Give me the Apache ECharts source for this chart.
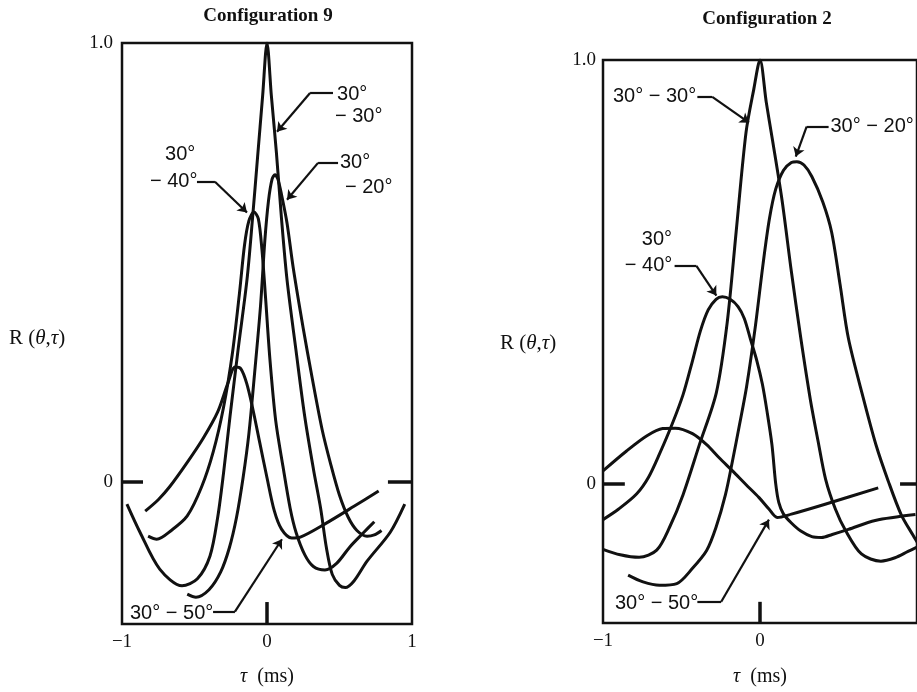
<!DOCTYPE html>
<html>
<head>
<meta charset="utf-8">
<script src="https://cdn.jsdelivr.net/npm/echarts@6/dist/echarts.min.js"></script>
<style>
html,body{margin:0;padding:0;background:#fff;}
#c{width:917px;height:692px;}
</style>
</head>
<body>
<div id="c"></div>
<script>
// ---------- Configuration 9 (left panel): [tau (ms), R] ----------
const c9_30_30 = [[-0.966,-0.05],[-0.876,-0.114],[-0.74,-0.198],[-0.586,-0.236],[-0.48,-0.22],[-0.393,-0.168],[-0.34,-0.08],[-0.3,0.02],[-0.255,0.15],[-0.2,0.3],[-0.138,0.461],[-0.1,0.6],[-0.065,0.74],[-0.03,0.88],[0,1.0],[0.03,0.88],[0.065,0.75],[0.1,0.6],[0.138,0.461],[0.2,0.3],[0.26,0.15],[0.32,0.03],[0.37,-0.06],[0.41,-0.15],[0.45,-0.21],[0.5,-0.235],[0.54,-0.24],[0.6,-0.225],[0.69,-0.18],[0.85,-0.114],[0.95,-0.05]];
const c9_30_40 = [[-0.82,-0.123],[-0.76,-0.13],[-0.66,-0.11],[-0.55,-0.077],[-0.45,-0.01],[-0.37,0.07],[-0.3,0.17],[-0.24,0.29],[-0.19,0.43],[-0.155,0.54],[-0.125,0.595],[-0.09,0.615],[-0.06,0.6],[-0.035,0.53],[-0.01,0.42],[0.02,0.28],[0.06,0.14],[0.11,0.036],[0.16,-0.06],[0.2,-0.114],[0.26,-0.165],[0.32,-0.192],[0.40,-0.2],[0.48,-0.185],[0.57,-0.148],[0.66,-0.117],[0.74,-0.09]];
const c9_30_20 = [[-0.55,-0.255],[-0.49,-0.262],[-0.40,-0.245],[-0.32,-0.205],[-0.26,-0.15],[-0.21,-0.08],[-0.165,0.01],[-0.125,0.11],[-0.085,0.25],[-0.045,0.4],[-0.015,0.55],[0.01,0.64],[0.035,0.69],[0.055,0.70],[0.075,0.69],[0.1,0.655],[0.138,0.59],[0.18,0.49],[0.25,0.35],[0.31,0.24],[0.38,0.12],[0.44,0.04],[0.5,-0.03],[0.56,-0.08],[0.62,-0.11],[0.69,-0.123],[0.74,-0.12],[0.79,-0.11]];
const c9_30_50 = [[-0.84,-0.066],[-0.75,-0.04],[-0.67,-0.01],[-0.55,0.045],[-0.44,0.1],[-0.34,0.16],[-0.27,0.225],[-0.22,0.262],[-0.18,0.258],[-0.14,0.225],[-0.1,0.17],[-0.05,0.09],[0,0.01],[0.05,-0.065],[0.1,-0.107],[0.17,-0.127],[0.23,-0.125],[0.4,-0.095],[0.6,-0.055],[0.77,-0.02]];

// ---------- Configuration 2 (right panel): [tau (ms), R] ----------
const c2_30_30 = [[-1.0,-0.155],[-0.89,-0.168],[-0.77,-0.174],[-0.658,-0.157],[-0.576,-0.103],[-0.49,-0.026],[-0.386,0.092],[-0.278,0.215],[-0.209,0.38],[-0.152,0.594],[-0.089,0.829],[-0.04,0.93],[0,1.0],[0.04,0.9],[0.08,0.81],[0.14,0.67],[0.2,0.5],[0.26,0.343],[0.32,0.2],[0.37,0.1],[0.418,0.01],[0.48,-0.06],[0.544,-0.11],[0.646,-0.166],[0.77,-0.183],[0.86,-0.175],[0.943,-0.16],[1.0,-0.15]];
const c2_30_40 = [[-1.0,-0.085],[-0.9,-0.06],[-0.785,-0.024],[-0.71,0.015],[-0.64,0.07],[-0.56,0.14],[-0.49,0.21],[-0.43,0.29],[-0.38,0.36],[-0.33,0.41],[-0.28,0.435],[-0.24,0.441],[-0.19,0.435],[-0.14,0.418],[-0.1,0.39],[-0.06,0.34],[-0.02,0.29],[0.015,0.235],[0.045,0.17],[0.076,0.092],[0.1,0.0],[0.12,-0.045],[0.15,-0.072],[0.2,-0.093],[0.26,-0.112],[0.33,-0.125],[0.392,-0.127],[0.46,-0.12],[0.563,-0.108],[0.734,-0.087],[0.99,-0.073]];
const c2_30_20 = [[-0.84,-0.216],[-0.745,-0.232],[-0.64,-0.24],[-0.53,-0.236],[-0.43,-0.2],[-0.34,-0.158],[-0.28,-0.103],[-0.22,-0.026],[-0.175,0.054],[-0.13,0.14],[-0.085,0.23],[-0.03,0.37],[0.02,0.52],[0.06,0.625],[0.1,0.695],[0.15,0.74],[0.2,0.758],[0.235,0.76],[0.28,0.752],[0.33,0.725],[0.4,0.665],[0.456,0.594],[0.51,0.47],[0.563,0.343],[0.658,0.202],[0.74,0.09],[0.816,0.007],[0.899,-0.073],[0.975,-0.122],[1.02,-0.15]];
const c2_30_50 = [[-1.0,0.03],[-0.85,0.077],[-0.72,0.113],[-0.62,0.13],[-0.54,0.131],[-0.43,0.118],[-0.34,0.092],[-0.26,0.061],[-0.175,0.03],[-0.09,-0.002],[-0.006,-0.033],[0.057,-0.06],[0.11,-0.08],[0.2,-0.072],[0.42,-0.048],[0.753,-0.01]];

// ---------- tick labels ----------
const xTicks9 = [-1, 0, 1];
const xTicks2 = [-1, 0];
const yTicks = [0, 1];
const xTickText = {'-1':'\u22121', '0':'0', '1':'1'};
const yTickText = {'0':'0', '1':'1.0'};

// ---------- annotations (text, grid, [tau, R]) ----------
const annoText = [
  {t:'30°', g:0, p:[0.483,0.882]}, {t:'\u2212 30°', g:0, p:[0.469,0.832]},
  {t:'30°', g:0, p:[0.503,0.727]}, {t:'\u2212 20°', g:0, p:[0.538,0.670]},
  {t:'30°', g:0, p:[-0.703,0.745]}, {t:'\u2212 40°', g:0, p:[-0.807,0.684]},
  {t:'30° \u2212 50°', g:0, p:[-0.945,-0.300]},
  {t:'30° \u2212 30°', g:1, p:[-0.937,0.913]},
  {t:'30° \u2212 20°', g:1, p:[0.449,0.843]},
  {t:'30°', g:1, p:[-0.753,0.577]}, {t:'\u2212 40°', g:1, p:[-0.861,0.514]},
  {t:'30° \u2212 50°', g:1, p:[-0.924,-0.284]}
];
// leader lines: [end at text, elbow, arrow tip]
const leaders9 = [
  [[0.455,0.886],[0.297,0.886],[0.069,0.798]],
  [[0.49,0.727],[0.352,0.727],[0.138,0.643]],
  [[-0.483,0.684],[-0.359,0.684],[-0.138,0.614]],
  [[-0.372,-0.295],[-0.221,-0.295],[0.103,-0.13]]
];
const leaders2 = [
  [[-0.399,0.913],[-0.304,0.913],[-0.07,0.852]],
  [[0.437,0.843],[0.297,0.843],[0.228,0.772]],
  [[-0.544,0.514],[-0.405,0.514],[-0.278,0.444]],
  [[-0.399,-0.279],[-0.247,-0.279],[0.057,-0.085]]
];
// zero reference ticks: [from, to]
const zeroTicks9 = [[[-1,0],[-0.855,0]],[[0.834,0],[1,0]],[[0,-0.323],[0,-0.273]]];
const zeroTicks2 = [[[-1,0],[-0.861,0]],[[0.892,0],[1,0]],[[0,-0.329],[0,-0.279]]];

const SERIF = '"Liberation Serif", "Times New Roman", serif';
const SANS = '"Liberation Sans", Arial, sans-serif';
const INK = '#111';

function leaderData(list){
  const out = [];
  list.forEach(l => {
    out.push([{coord:l[0], symbol:'none'}, {coord:l[1], symbol:'none'}]);
    out.push([{coord:l[1], symbol:'none'}, {coord:l[2], symbol:'arrow'}]);
  });
  return out;
}
function tickData(list){
  return list.map(s => [{coord:s[0]}, {coord:s[1]}]);
}
function curve(name, data, gi, extra){
  const s = {
    name, type:'line', data, xAxisIndex:gi, yAxisIndex:gi,
    showSymbol:false, symbol:'none', smooth:0.3, animation:false, silent:true,
    lineStyle:{color:INK, width:3, join:'round'}, z:3
  };
  return Object.assign(s, extra || {});
}
const leaderMark = (list) => ({
  silent:true, animation:false, symbol:['none','arrow'], symbolSize:9,
  label:{show:false}, lineStyle:{color:INK, width:2.2, type:'solid'},
  emphasis:{disabled:true}, data:leaderData(list)
});
const tickMark = (list) => ({
  silent:true, animation:false, symbol:['none','none'],
  label:{show:false}, lineStyle:{color:INK, width:3.5, type:'solid'},
  emphasis:{disabled:true}, data:tickData(list)
});

function xAxis(gi, ticks){
  return {
    type:'value', gridIndex:gi, min:-1, max:1,
    axisLine:{show:false}, axisTick:{show:false}, splitLine:{show:false},
    axisLabel:{customValues:ticks, formatter:v => xTickText[String(v)], color:INK,
      fontFamily:SERIF, fontSize:19, margin:9},
    name:'{i|\u03c4}  (ms)', nameLocation:'middle', nameGap:gi===0?43:44,
    nameTextStyle:{color:INK, fontFamily:SERIF, fontSize:20,
      rich:{i:{fontStyle:'italic', fontFamily:SERIF, fontSize:20, color:INK}}}
  };
}
function yAxis(gi, min){
  return {
    type:'value', gridIndex:gi, min:min, max:1,
    axisLine:{show:false}, axisTick:{show:false}, splitLine:{show:false},
    axisLabel:{customValues:yTicks, formatter:v => yTickText[String(v)], color:INK,
      fontFamily:SERIF, fontSize:19, margin:gi===0?9:7}
  };
}

const option = {
  backgroundColor:'#fff',
  animation:false,
  grid:[
    {left:122, right:505, top:43, bottom:67, show:true, borderColor:INK, borderWidth:2.5, backgroundColor:'transparent'},
    {left:603, right:-4, top:60, bottom:66, show:true, borderColor:INK, borderWidth:2.5, backgroundColor:'transparent'}
  ],
  xAxis:[xAxis(0, xTicks9), xAxis(1, xTicks2)],
  yAxis:[yAxis(0, -0.323), yAxis(1, -0.329)],
  series:[
    curve('Config 9: 30°−30°', c9_30_30, 0, {markLine:tickMark(zeroTicks9)}),
    curve('Config 9: 30°−40°', c9_30_40, 0),
    curve('Config 9: 30°−20°', c9_30_20, 0),
    curve('Config 9: 30°−50°', c9_30_50, 0, {markLine:leaderMark(leaders9)}),
    curve('Config 2: 30°−30°', c2_30_30, 1, {markLine:tickMark(zeroTicks2)}),
    curve('Config 2: 30°−40°', c2_30_40, 1),
    curve('Config 2: 30°−20°', c2_30_20, 1),
    curve('Config 2: 30°−50°', c2_30_50, 1, {markLine:leaderMark(leaders2)})
  ]
};

const chart = echarts.init(document.getElementById('c'), null, {renderer:'canvas'});
chart.setOption(option);

const gfx = [];
gfx.push({type:'text', x:268, y:16, style:{text:'Configuration 9', font:'bold 19px ' + SERIF, fill:INK, align:'center', verticalAlign:'middle'}});
gfx.push({type:'text', x:767, y:19, style:{text:'Configuration 2', font:'bold 19px ' + SERIF, fill:INK, align:'center', verticalAlign:'middle'}});
const rLabel = (x, y) => ({type:'text', x:x, y:y, style:{
  text:'R ({i|\u03b8},{i|\u03c4})', fill:INK, fontFamily:SERIF, fontSize:21, verticalAlign:'middle', align:'left',
  rich:{i:{fontStyle:'italic', fontFamily:SERIF, fontSize:21, fill:INK}}}});
gfx.push(rLabel(9, 338));
gfx.push(rLabel(500, 343));
annoText.forEach(a => {
  const p = chart.convertToPixel({gridIndex:a.g}, a.p);
  gfx.push({type:'text', x:p[0], y:p[1], style:{text:a.t, fill:INK, font:'20px ' + SANS, align:'left', verticalAlign:'middle'}});
});
chart.setOption({graphic:gfx});
</script>
</body>
</html>
